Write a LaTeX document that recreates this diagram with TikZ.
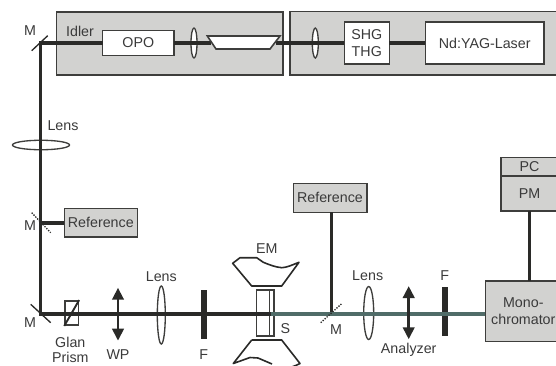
\documentclass[tikz,border=0pt]{standalone}
\usepackage{fontspec}
\setmainfont{Liberation Sans}
\usepackage{xcolor}
\usepackage{tikz}
\usetikzlibrary{arrows.meta,positioning,calc,shapes.geometric}
\definecolor{panel}{RGB}{210,210,208}
\definecolor{ink}{RGB}{42,42,40}
\definecolor{edge}{RGB}{62,62,60}
\definecolor{word}{RGB}{58,58,58}
\definecolor{probe}{RGB}{80,108,104}
\tikzset{
  sz/.style 2 args={minimum width=#1*0.75pt, minimum height=#2*0.75pt},
  box/.style={draw=edge, line width=1.2pt, fill=white, inner sep=0pt, outer sep=0pt, align=center, text=word,
              font=\fontsize{10.7}{12.2}\selectfont},
  boxg/.style={box, fill=panel},
  lbl/.style={inner sep=0pt, outer sep=0pt, align=center, text=word, font=\fontsize{10.7}{12.2}\selectfont},
  lens/.style={draw=edge, line width=1pt, fill=white, ellipse, inner sep=0pt, outer sep=0pt},
  filt/.style={fill=ink, inner sep=0pt, outer sep=0pt},
  beam/.style={draw=ink, line width=2.4pt},
  pol/.style={draw=ink, line width=2.2pt, {Triangle[length=9pt,width=8.5pt]}-{Triangle[length=9pt,width=8.5pt]}},
  mir/.style={draw=ink, line width=1pt},
  mird/.style={mir, densely dotted},
  emcoll/.style={draw=ink, line width=1.2pt, line join=round},
}

\begin{document}
\begin{tikzpicture}[x=0.75pt, y=-0.75pt]
  \useasboundingbox (0,0) rectangle (556,365);
  \clip (0,0) rectangle (556,365);
  % pump panels
  \node[boxg, sz={226.5}{63}] (opopanel) at (169.75,43.5) {};
  \node[boxg, sz={280}{63.5}] (laserpanel) at (430,43.25) {};
  \node[lbl] (idler) at (80,31) {Idler};
  % lenses and optics under the beam
  \node[lens, sz={6}{30}] (lensa) at (194,43) {};
  \node[lens, sz={6}{30}] (lensb) at (315.3,43) {};
  \node[lens, sz={57}{9.5}] (lensc) at (41,145) {};
  \node[lens, sz={8}{58}] (lensd) at (161.3,315) {};
  \node[lens, sz={10}{53}] (lense) at (368.7,313) {};
  \node[draw=edge, line width=1.2pt, fill=white, inner sep=0pt, sz={13.3}{24.3}] (glan) at (71.7,313) {};
  \coordinate (mtop) at (40.7,43);
  \coordinate (mref) at (40.7,223);
  \coordinate (mbot) at (40.7,314);
  \coordinate (msig) at (331.3,314);
  \coordinate (samp) at (271,314);
  \coordinate (tela) at (211,43);
  \coordinate (telb) at (276,43);
  % sample
  \node[draw=edge, line width=1.1pt, inner sep=0pt, sz={17.3}{45.7}] (sample) at (265.3,313) {};
  \draw[draw=edge, line width=1.2pt] (269.3,290.3) -- (269.3,336);
  % boxes
  \node[box, sz={71.3}{24.7}] (opo) at (138.3,43) {OPO};
  \node[box, sz={45}{41.6}] (shg) at (366.8,43) {SHG\\THG};
  \node[box, sz={118.7}{41.7}] (laser) at (484.7,43) {Nd:YAG-Laser};
  \node[boxg, sz={73}{28.4}] (refa) at (100.8,222.5) {Reference};
  \node[boxg, sz={73.4}{29}] (refb) at (330,197.8) {Reference};
  \node[boxg, sz={76}{60.3}] (mono) at (523.3,311.2) {Mono-\\chromator};
  \node[boxg, sz={57}{18.4}] (pc) at (529.5,166.5) {PC};
  \node[boxg, sz={57}{35}] (pm) at (529.5,193.2) {PM};
  \node[filt, sz={6}{49}] (fa) at (204,314.5) {};
  \node[filt, sz={5.7}{48.7}] (fb) at (444.8,311.3) {};
  % beams
  \draw[beam] (opo.west) -- (mtop) -- (mbot) -- (samp);
  \draw[beam] (opo.east) -- (tela);
  \draw[beam] (telb) -- (shg.west);
  \draw[beam] (shg.east) -- (laser.west);
  \draw[beam] (mref) -- (mref -| refa.west);
  \draw[beam] (msig) -- (msig |- refb.south);
  \draw[beam] (pm.south) -- (pm.south |- mono.north);
  \draw[beam, draw=probe] (samp) -- (samp -| mono.west);
  % telescope
  \draw[draw=edge, line width=1.2pt, fill=white] (207.3,36) -- (280,36) -- (270,49) -- (216,49) -- cycle;
  % mirrors
  \draw[mir] (31.7,50.7) -- (47.7,35.7);
  \draw[mird] (31.7,212.7) -- (50.7,232.7);
  \draw[mir] (30.7,304.3) -- (50.7,322.7);
  \draw[mird] (320.7,322.7) -- (341.3,304);
  % polarizers
  \draw[draw=ink, line width=1.4pt] (glan.south west) -- (glan.north east);
  \coordinate (wpa) at (118,287.7);
  \coordinate (wpb) at (118,340.7);
  \coordinate (ana) at (408.7,286);
  \coordinate (anb) at (408.7,339.3);
  \draw[pol] (wpa) -- (wpb);
  \draw[pol] (ana) -- (anb);
  % emission collectors
  \draw[emcoll] (232.7,263.3) -- (240,257.7) -- (256.7,257.7) -- (263.3,262.3) .. controls (270,265) and (275,267) .. (281.7,267.7) .. controls (287,267.5) and (292,265) .. (299,262.3) -- (281.7,286) -- (251.7,286) -- cycle;
  \draw[emcoll] (251.7,340) -- (281.7,340) -- (300,363.5) .. controls (295,366) and (290,368) .. (283,369);
  \draw[emcoll] (251.7,340) -- (233.3,363.5) -- (250,357.5) -- (258,358) -- (272,364);
  % labels
  \node[lbl] (lm) at (30,31) {M};
  \node[lbl] (lmb) at (30,226) {M};
  \node[lbl] (lmc) at (30,323) {M};
  \node[lbl] (lmd) at (336,329.5) {M};
  \node[lbl] (llensc) at (63,126) {Lens};
  \node[lbl] (llensd) at (161.3,277) {Lens};
  \node[lbl] (llense) at (367.7,276) {Lens};
  \node[lbl] (lglan) at (70.3,349.5) {Glan\\[-1pt]Prism};
  \node[lbl] (lwp) at (118,354.5) {WP};
  \node[lbl] (lfa) at (203.7,354.5) {F};
  \node[lbl] (lfb) at (444.7,276) {F};
  \node[lbl] (lem) at (266.7,249) {EM};
  \node[lbl] (ls) at (285.3,329) {S};
  \node[lbl] (lana) at (408.7,349.5) {Analyzer};
\end{tikzpicture}
\end{document}
